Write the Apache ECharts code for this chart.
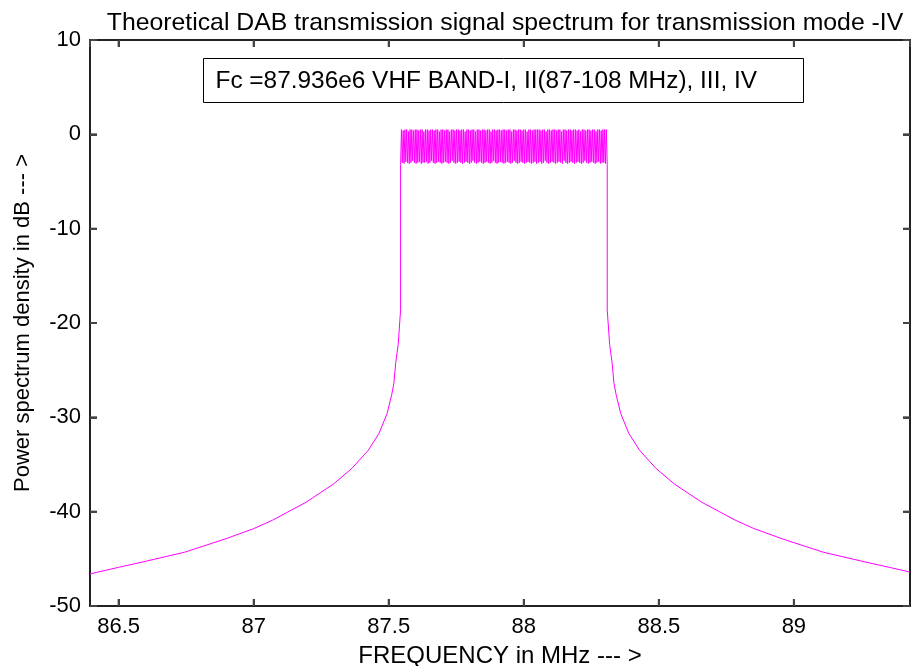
<!DOCTYPE html>
<html lang="en">

<head>
    <meta charset="UTF-8">
    <title>DAB spectrum</title>
    <style>
        html, body { margin: 0; padding: 0; background: #fff; }
        #chart { width: 911px; height: 666px; }
    </style>
    <script src="https://cdn.jsdelivr.net/npm/echarts@6/dist/echarts.min.js"></script>
</head>

<body>
    <div id="chart"></div>
    <script>
        // lower skirt, left of the band (MHz, dB)
        var leftFreq = [86.394, 86.500, 86.594, 86.744, 86.894, 87.000, 87.070, 87.194, 87.294,
            87.364, 87.424, 87.464, 87.494, 87.511, 87.519, 87.526, 87.535, 87.544];
        var leftDb = [-46.6, -45.9, -45.3, -44.3, -42.9, -41.8, -40.9, -39.0, -37.1,
            -35.4, -33.5, -31.7, -29.6, -27.6, -26.4, -24.2, -22.3, -18.6];

        // lower skirt, right of the band
        var rightFreq = [88.309, 88.318, 88.327, 88.334, 88.342, 88.359, 88.389, 88.429, 88.489,
            88.559, 88.659, 88.783, 88.853, 88.959, 89.109, 89.259, 89.353, 89.430];
        var rightDb = [-18.6, -22.3, -24.2, -26.4, -27.6, -29.6, -31.7, -33.5, -35.4,
            -37.1, -39.0, -40.9, -41.8, -42.9, -44.3, -45.3, -45.9, -46.4];

        // in-band ripple (carriers), spread evenly between the band edges
        var bandEdges = [87.544, 88.309];
        var rippleDb = [
            -3.2, 0.5, -3.0, 0.4, -3.1, 0.5, -2.9, 0.5, -3.0, 0.3, -3.1, 0.5, -3.0, 0.5, -2.8, 0.4, -3.0, 0.5, -3.1, 0.5,
            -3.0, 0.4, -2.9, 0.5, -3.1, 0.5, -3.0, 0.3, -3.0, 0.5, -2.9, 0.5, -3.1, 0.4, -3.0, 0.5, -2.8, 0.5, -3.0, 0.4,
            -3.1, 0.5, -3.0, 0.5, -2.9, 0.3, -3.0, 0.5, -3.1, 0.5, -3.0, 0.4, -2.9, 0.5, -3.0, 0.5, -3.1, 0.3, -3.0, 0.5,
            -2.8, 0.5, -3.0, 0.4, -3.1, 0.5, -3.0, 0.5, -2.9, 0.4, -3.0, 0.5, -3.1, 0.5, -3.0, 0.3, -2.9, 0.5, -3.0, 0.5,
            -3.1, 0.4, -3.0, 0.5, -2.8, 0.5, -3.0, 0.3, -3.1, 0.5, -3.0, 0.5, -2.9, 0.4, -3.0, 0.5, -3.1, 0.5, -3.0, 0.4,
            -2.9, 0.5, -3.0, 0.5, -3.1, 0.3, -3.0, 0.5, -2.8, 0.5, -3.0, 0.4, -3.1, 0.5, -3.0, 0.5, -2.9, 0.4, -3.0, 0.5,
            -3.1, 0.5, -3.0, 0.4, -2.9, 0.5, -3.0, 0.5, -3.1, 0.3, -3.0, 0.5, -2.8, 0.5, -3.0, 0.4, -3.1, 0.5, -3.0, 0.5,
            -2.9, 0.4, -3.0, 0.5, -3.1, 0.5, -3.0, 0.3, -2.9, 0.5, -3.0, 0.5, -3.1, 0.4, -3.0, 0.5, -2.9, 0.5, -3.1, 0.5,
            -3.0, 0.5, -2.9, 0.4, -3.1, 0.5, -3.0, 0.5, -2.8, 0.3, -3.0, 0.5, -3.1, 0.5, -3.0, 0.4, -2.9, 0.5, -3.0, 0.5,
            -3.1, 0.4, -3.0, 0.5, -2.9, 0.5, -3.0, 0.3, -3.1, 0.5, -2.8, 0.5, -3.0, 0.4, -3.1, 0.5, -3.0, 0.5, -2.9, 0.4,
            -3.0, 0.5, -3.1, 0.5, -3.0, 0.4, -2.9, 0.5, -3.0, 0.3, -3.1, 0.5, -3.0, 0.5, -2.8, 0.4, -3.0, 0.5, -3.1, 0.5,
            -3.0, 0.4, -2.9, 0.5, -3.0, 0.5, -3.1, 0.3, -3.0, 0.5, -2.9, 0.5, -3.1, 0.4, -3.0, 0.5, -3.0, 0.5, -3.1, 0.5,
            -3.2
        ];

        var xRange = [86.394, 89.43];
        var yTicks = [-50, 10, 10]; // min, max, step
        var xTickVals = [86.5, 87, 87.5, 88, 88.5, 89];
        var yTickVals = [-40, -30, -20, -10, 0];

        var data = [];
        for (var i = 0; i < leftFreq.length; i++) data.push([leftFreq[i], leftDb[i]]);
        var step = (bandEdges[1] - bandEdges[0]) / (rippleDb.length - 1);
        for (var j = 0; j < rippleDb.length; j++) data.push([bandEdges[0] + j * step, rippleDb[j]]);
        for (var k = 0; k < rightFreq.length; k++) data.push([rightFreq[k], rightDb[k]]);

        var font = 'Liberation Sans';
        var tickLen = 7;
        function boxLine() {
            return { show: true, onZero: false, lineStyle: { color: '#222', width: 2 } };
        }
        function inTick() {
            return { show: true, inside: true, length: tickLen, lineStyle: { color: '#444', width: 2 } };
        }
        function tickLine(x1, y1, x2, y2) {
            return {
                type: 'line',
                shape: { x1: x1, y1: y1, x2: x2, y2: y2 },
                style: { stroke: '#444', lineWidth: 2 },
                z2: 100
            };
        }

        // inward ticks on all four sides of the box, placed with the axes' own scales
        function renderTicks(params, api) {
            var children = [];
            xTickVals.forEach(function (v) {
                var b = api.coord([v, yTicks[0]]);
                var t = api.coord([v, yTicks[1]]);
                children.push(tickLine(b[0], b[1], b[0], b[1] - tickLen));
                children.push(tickLine(t[0], t[1], t[0], t[1] + tickLen));
            });
            yTickVals.forEach(function (v) {
                var l = api.coord([xRange[0], v]);
                var r = api.coord([xRange[1], v]);
                children.push(tickLine(l[0], l[1], l[0] + tickLen, l[1]));
                children.push(tickLine(r[0], r[1], r[0] - tickLen, r[1]));
            });
            return { type: 'group', children: children };
        }

        var chart = echarts.init(document.getElementById('chart'));
        chart.setOption({
            animation: false,
            backgroundColor: '#fff',
            title: {
                text: 'Theoretical DAB transmission signal spectrum for transmission mode -IV',
                left: 500,
                textAlign: 'center',
                top: 6,
                textStyle: { fontFamily: font, fontSize: 24.8, fontWeight: 'normal', color: '#000' }
            },
            grid: { left: 90, right: 1, top: 40, bottom: 60, outerBoundsMode: 'none' },
            xAxis: [{
                type: 'value',
                min: xRange[0],
                max: xRange[1],
                splitNumber: 6,
                name: 'FREQUENCY in MHz --- >',
                nameLocation: 'middle',
                nameGap: 38,
                nameTextStyle: { fontFamily: font, fontSize: 24, color: '#000' },
                axisLine: boxLine(),
                axisTick: inTick(),
                splitLine: { show: false },
                axisLabel: {
                    fontFamily: font, fontSize: 22, color: '#000', margin: 10,
                    showMinLabel: false, showMaxLabel: false
                }
            }, {
                type: 'value',
                position: 'top',
                min: xRange[0],
                max: xRange[1],
                splitNumber: 6,
                axisLine: boxLine(),
                axisTick: inTick(),
                splitLine: { show: false },
                axisLabel: { show: false }
            }],
            yAxis: [{
                type: 'value',
                min: yTicks[0],
                max: yTicks[1],
                interval: yTicks[2],
                name: 'Power spectrum density in dB --- >',
                nameLocation: 'middle',
                nameGap: 56,
                nameTextStyle: { fontFamily: font, fontSize: 22, color: '#000' },
                axisLine: boxLine(),
                axisTick: inTick(),
                splitLine: { show: false },
                axisLabel: { fontFamily: font, fontSize: 22, color: '#000', margin: 9 }
            }, {
                type: 'value',
                position: 'right',
                min: yTicks[0],
                max: yTicks[1],
                interval: yTicks[2],
                axisLine: boxLine(),
                axisTick: inTick(),
                splitLine: { show: false },
                axisLabel: { show: false }
            }],
            graphic: [{
                type: 'group',
                left: 203,
                top: 58,
                children: [{
                    type: 'rect',
                    shape: { x: 0, y: 0, width: 600, height: 44 },
                    style: { fill: '#fff', stroke: '#000', lineWidth: 1 }
                }, {
                    type: 'text',
                    x: 12,
                    y: 23,
                    style: {
                        text: 'Fc =87.936e6 VHF BAND-I, II(87-108 MHz), III, IV',
                        font: '24.4px "Liberation Sans"',
                        fill: '#000',
                        verticalAlign: 'middle'
                    }
                }]
            }],
            series: [{
                type: 'line',
                xAxisIndex: 0,
                yAxisIndex: 0,
                showSymbol: false,
                sampling: 'none',
                lineStyle: { color: '#ff00ff', width: 1 },
                data: data
            }, {
                type: 'custom',
                xAxisIndex: 0,
                yAxisIndex: 0,
                silent: true,
                clip: false,
                renderItem: renderTicks,
                data: [[xRange[0], yTicks[0]]]
            }]
        });
    </script>
</body>

</html>
